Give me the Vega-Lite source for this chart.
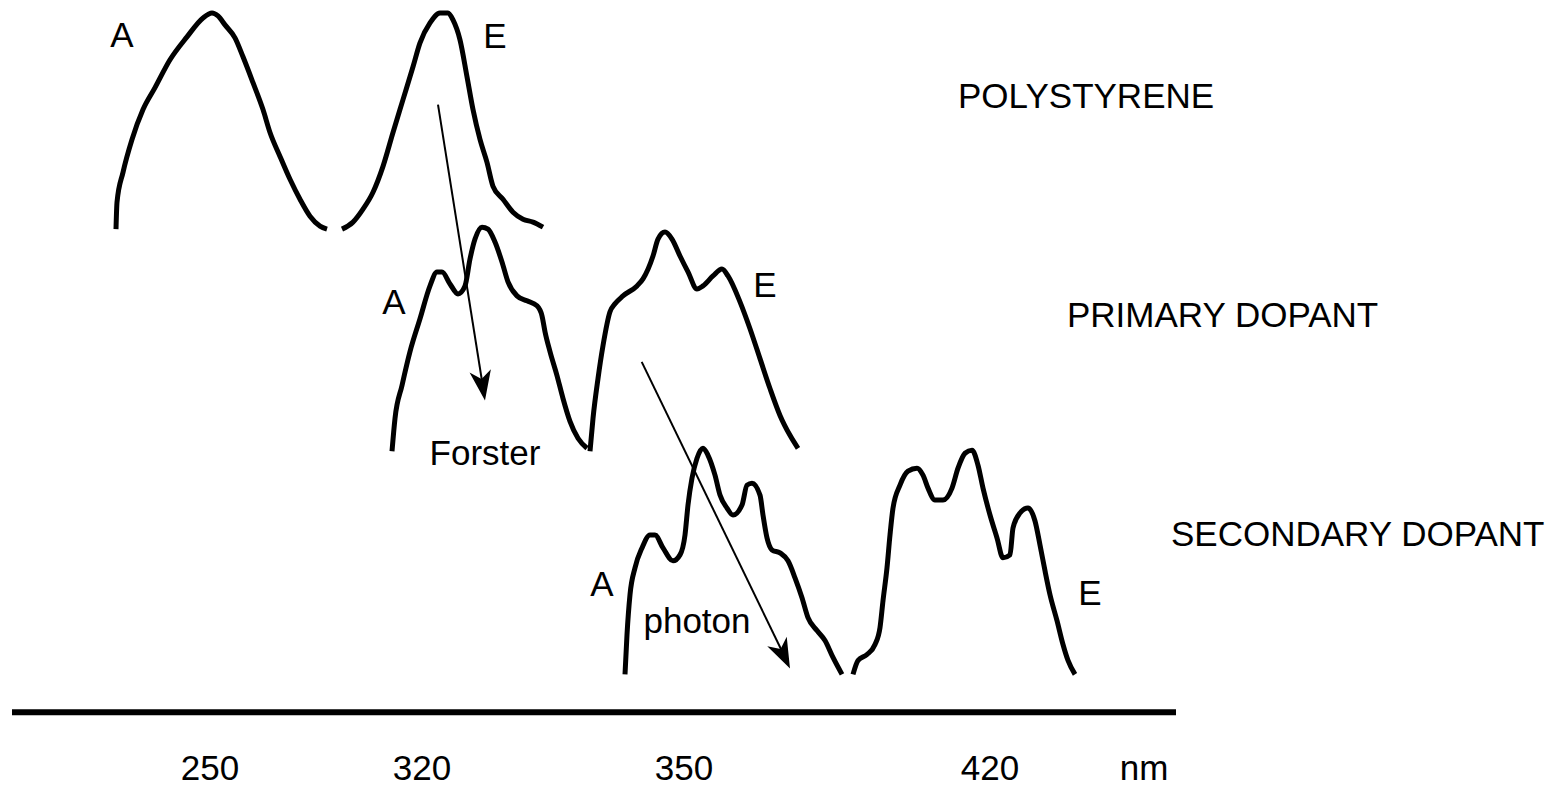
{
  "$schema": "https://vega.github.io/schema/vega-lite/v6.json",
  "width": 1550,
  "height": 787,
  "autosize": {"type": "fit", "contains": "padding"},
  "padding": 0,
  "background": "white",
  "config": {"view": {"stroke": null}},
  "datasets": {
    "curves": [
      {"c":"psA","x":116,"y":230},{"c":"psA","x":117,"y":203},{"c":"psA","x":123,"y":173},{"c":"psA","x":132,"y":140},{"c":"psA","x":143,"y":110},{"c":"psA","x":155,"y":88},{"c":"psA","x":170,"y":60},{"c":"psA","x":187,"y":37},{"c":"psA","x":203,"y":18},{"c":"psA","x":212,"y":13},{"c":"psA","x":218,"y":16},{"c":"psA","x":225,"y":25},{"c":"psA","x":235,"y":38},{"c":"psA","x":243,"y":57},{"c":"psA","x":253,"y":83},{"c":"psA","x":263,"y":110},{"c":"psA","x":270,"y":133},{"c":"psA","x":280,"y":157},{"c":"psA","x":290,"y":180},{"c":"psA","x":300,"y":200},{"c":"psA","x":310,"y":217},{"c":"psA","x":320,"y":227},{"c":"psA","x":327,"y":230},
      {"c":"psE","x":342,"y":230},{"c":"psE","x":353,"y":223},{"c":"psE","x":363,"y":210},{"c":"psE","x":373,"y":193},{"c":"psE","x":383,"y":167},{"c":"psE","x":393,"y":133},{"c":"psE","x":403,"y":100},{"c":"psE","x":413,"y":67},{"c":"psE","x":420,"y":43},{"c":"psE","x":430,"y":23},{"c":"psE","x":440,"y":13},{"c":"psE","x":448,"y":13},{"c":"psE","x":453,"y":20},{"c":"psE","x":460,"y":40},{"c":"psE","x":467,"y":77},{"c":"psE","x":473,"y":110},{"c":"psE","x":480,"y":140},{"c":"psE","x":487,"y":163},{"c":"psE","x":493,"y":187},{"c":"psE","x":503,"y":200},{"c":"psE","x":513,"y":213},{"c":"psE","x":523,"y":220},{"c":"psE","x":533,"y":223},{"c":"psE","x":543,"y":228},
      {"c":"pdA","x":392,"y":453},{"c":"pdA","x":395,"y":420},{"c":"pdA","x":402,"y":387},{"c":"pdA","x":410,"y":353},{"c":"pdA","x":420,"y":320},{"c":"pdA","x":430,"y":287},{"c":"pdA","x":437,"y":273},{"c":"pdA","x":442,"y":273},{"c":"pdA","x":450,"y":285},{"c":"pdA","x":458,"y":295},{"c":"pdA","x":465,"y":287},{"c":"pdA","x":470,"y":260},{"c":"pdA","x":475,"y":240},{"c":"pdA","x":482,"y":228},{"c":"pdA","x":488,"y":230},{"c":"pdA","x":495,"y":243},{"c":"pdA","x":502,"y":263},{"c":"pdA","x":508,"y":283},{"c":"pdA","x":517,"y":297},{"c":"pdA","x":527,"y":302},{"c":"pdA","x":537,"y":307},{"c":"pdA","x":542,"y":317},{"c":"pdA","x":545,"y":333},{"c":"pdA","x":550,"y":353},{"c":"pdA","x":557,"y":377},{"c":"pdA","x":563,"y":400},{"c":"pdA","x":570,"y":423},{"c":"pdA","x":578,"y":440},{"c":"pdA","x":587,"y":450},
      {"c":"pdE","x":590,"y":453},{"c":"pdE","x":593,"y":420},{"c":"pdE","x":598,"y":380},{"c":"pdE","x":603,"y":347},{"c":"pdE","x":610,"y":313},{"c":"pdE","x":615,"y":305},{"c":"pdE","x":623,"y":297},{"c":"pdE","x":637,"y":287},{"c":"pdE","x":643,"y":280},{"c":"pdE","x":653,"y":257},{"c":"pdE","x":658,"y":240},{"c":"pdE","x":665,"y":233},{"c":"pdE","x":672,"y":240},{"c":"pdE","x":680,"y":257},{"c":"pdE","x":688,"y":273},{"c":"pdE","x":697,"y":290},{"c":"pdE","x":703,"y":287},{"c":"pdE","x":713,"y":277},{"c":"pdE","x":722,"y":270},{"c":"pdE","x":728,"y":277},{"c":"pdE","x":740,"y":303},{"c":"pdE","x":750,"y":330},{"c":"pdE","x":760,"y":360},{"c":"pdE","x":770,"y":390},{"c":"pdE","x":780,"y":417},{"c":"pdE","x":790,"y":437},{"c":"pdE","x":798,"y":450},
      {"c":"sdA","x":625,"y":677},{"c":"sdA","x":627,"y":637},{"c":"sdA","x":630,"y":597},{"c":"sdA","x":635,"y":570},{"c":"sdA","x":642,"y":550},{"c":"sdA","x":650,"y":537},{"c":"sdA","x":655,"y":537},{"c":"sdA","x":663,"y":550},{"c":"sdA","x":673,"y":563},{"c":"sdA","x":680,"y":557},{"c":"sdA","x":685,"y":537},{"c":"sdA","x":688,"y":507},{"c":"sdA","x":692,"y":480},{"c":"sdA","x":697,"y":460},{"c":"sdA","x":703,"y":450},{"c":"sdA","x":708,"y":457},{"c":"sdA","x":715,"y":477},{"c":"sdA","x":720,"y":497},{"c":"sdA","x":727,"y":510},{"c":"sdA","x":733,"y":517},{"c":"sdA","x":742,"y":507},{"c":"sdA","x":747,"y":487},{"c":"sdA","x":752,"y":485},{"c":"sdA","x":760,"y":497},{"c":"sdA","x":763,"y":517},{"c":"sdA","x":767,"y":540},{"c":"sdA","x":772,"y":552},{"c":"sdA","x":780,"y":555},{"c":"sdA","x":788,"y":563},{"c":"sdA","x":795,"y":580},{"c":"sdA","x":802,"y":600},{"c":"sdA","x":808,"y":620},{"c":"sdA","x":817,"y":633},{"c":"sdA","x":825,"y":643},{"c":"sdA","x":833,"y":660},{"c":"sdA","x":842,"y":677},
      {"c":"sdE","x":853,"y":677},{"c":"sdE","x":858,"y":663},{"c":"sdE","x":867,"y":657},{"c":"sdE","x":875,"y":647},{"c":"sdE","x":880,"y":630},{"c":"sdE","x":883,"y":603},{"c":"sdE","x":887,"y":570},{"c":"sdE","x":890,"y":537},{"c":"sdE","x":893,"y":510},{"c":"sdE","x":900,"y":487},{"c":"sdE","x":908,"y":473},{"c":"sdE","x":917,"y":470},{"c":"sdE","x":923,"y":477},{"c":"sdE","x":928,"y":490},{"c":"sdE","x":935,"y":502},{"c":"sdE","x":943,"y":502},{"c":"sdE","x":952,"y":490},{"c":"sdE","x":958,"y":470},{"c":"sdE","x":965,"y":455},{"c":"sdE","x":972,"y":452},{"c":"sdE","x":978,"y":467},{"c":"sdE","x":983,"y":490},{"c":"sdE","x":990,"y":517},{"c":"sdE","x":997,"y":540},{"c":"sdE","x":1003,"y":560},{"c":"sdE","x":1010,"y":557},{"c":"sdE","x":1013,"y":530},{"c":"sdE","x":1020,"y":515},{"c":"sdE","x":1028,"y":510},{"c":"sdE","x":1035,"y":523},{"c":"sdE","x":1040,"y":547},{"c":"sdE","x":1045,"y":573},{"c":"sdE","x":1050,"y":597},{"c":"sdE","x":1057,"y":623},{"c":"sdE","x":1063,"y":647},{"c":"sdE","x":1068,"y":663},{"c":"sdE","x":1075,"y":677}
    ],
    "arrows": [
      {"name":"Forster","x":438,"y":105,"x2":484,"y2":395,"hx":482.6,"hy":387.2},
      {"name":"photon","x":641.7,"y":363.3,"x2":787,"y2":664,"hx":783.5,"hy":657.5}
    ],
    "baseline": [
      {"x":12,"x2":1176,"y":715}
    ],
    "centered": [
      {"t":"A","x":122,"y":47},
      {"t":"E","x":495,"y":48},
      {"t":"A","x":394,"y":315},
      {"t":"E","x":765,"y":298},
      {"t":"A","x":602,"y":598},
      {"t":"E","x":1090,"y":607},
      {"t":"Forster","x":485,"y":467},
      {"t":"photon","x":697,"y":635},
      {"t":"250","x":210,"y":783},
      {"t":"320","x":422,"y":783},
      {"t":"350","x":684,"y":783},
      {"t":"420","x":990,"y":783},
      {"t":"nm","x":1144,"y":783}
    ],
    "groups": [
      {"t":"POLYSTYRENE","x":958,"y":108},
      {"t":"PRIMARY DOPANT","x":1067,"y":328},
      {"t":"SECONDARY DOPANT","x":1171,"y":548}
    ]
  },
  "layer": [
    {
      "data": {"name": "curves"},
      "mark": {"type": "line", "color": "black", "strokeWidth": 5, "interpolate": "monotone", "strokeJoin": "round", "strokeCap": "butt"},
      "encoding": {
        "x": {"field": "x", "type": "quantitative", "scale": {"domain": [0, 1550], "nice": false, "zero": false}, "axis": null},
        "y": {"field": "y", "type": "quantitative", "scale": {"domain": [0, 787], "nice": false, "zero": false, "reverse": true}, "axis": null},
        "detail": {"field": "c", "type": "nominal"}
      }
    },
    {
      "data": {"name": "arrows"},
      "mark": {"type": "rule", "color": "black", "strokeWidth": 2},
      "encoding": {
        "x": {"field": "x", "type": "quantitative"},
        "y": {"field": "y", "type": "quantitative"},
        "x2": {"field": "x2"},
        "y2": {"field": "y2"}
      }
    },
    {
      "data": {"name": "arrows"},
      "transform": [{"filter": "datum.name === 'Forster'"}],
      "mark": {"type": "point", "shape": "M0,1L-0.72,-1L0,-0.45L0.72,-1Z", "filled": true, "color": "black", "opacity": 1, "size": 900, "angle": 350.9},
      "encoding": {
        "x": {"field": "hx", "type": "quantitative"},
        "y": {"field": "hy", "type": "quantitative"}
      }
    },
    {
      "data": {"name": "arrows"},
      "transform": [{"filter": "datum.name === 'photon'"}],
      "mark": {"type": "point", "shape": "M0,1L-0.72,-1L0,-0.45L0.72,-1Z", "filled": true, "color": "black", "opacity": 1, "size": 900, "angle": 334.3},
      "encoding": {
        "x": {"field": "hx", "type": "quantitative"},
        "y": {"field": "hy", "type": "quantitative"}
      }
    },
    {
      "data": {"name": "baseline"},
      "mark": {"type": "rule", "color": "black", "strokeWidth": 6, "strokeCap": "butt"},
      "encoding": {
        "x": {"field": "x", "type": "quantitative"},
        "x2": {"field": "x2"},
        "y": {"field": "y", "type": "quantitative"}
      }
    },
    {
      "data": {"name": "centered"},
      "mark": {"type": "text", "font": "Liberation Sans", "fontSize": 35, "color": "black", "align": "center", "baseline": "alphabetic"},
      "encoding": {
        "x": {"field": "x", "type": "quantitative"},
        "y": {"field": "y", "type": "quantitative"},
        "text": {"field": "t"}
      }
    },
    {
      "data": {"name": "groups"},
      "mark": {"type": "text", "font": "Liberation Sans", "fontSize": 35, "color": "black", "align": "left", "baseline": "alphabetic"},
      "encoding": {
        "x": {"field": "x", "type": "quantitative"},
        "y": {"field": "y", "type": "quantitative"},
        "text": {"field": "t"}
      }
    }
  ]
}
